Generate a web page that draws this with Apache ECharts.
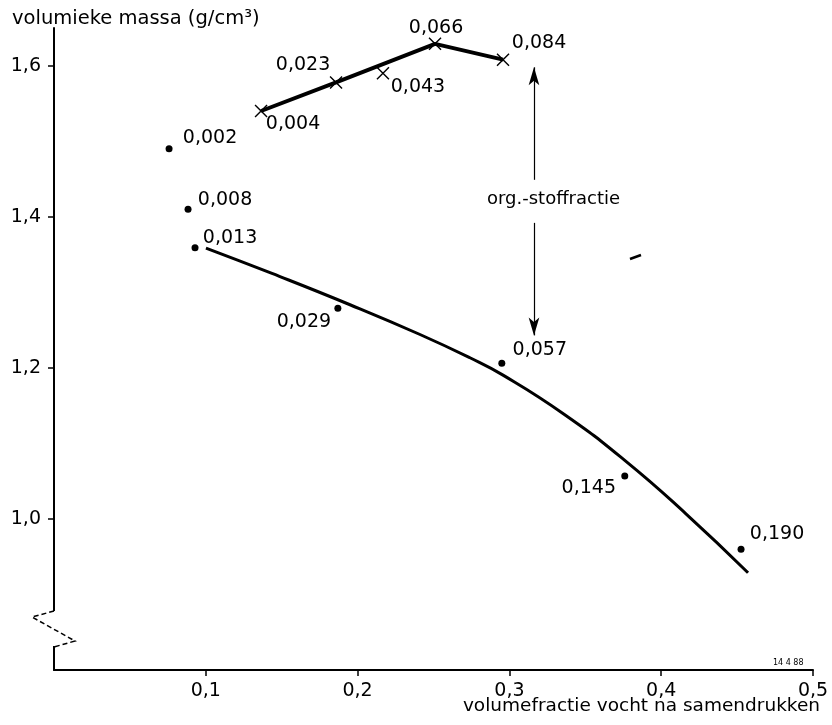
<!DOCTYPE html>
<html><head><meta charset="utf-8">
<script src="https://cdn.jsdelivr.net/npm/echarts@6/dist/echarts.min.js"></script>
<style>html,body{margin:0;padding:0;background:#fff}#c{width:832px;height:725px}</style>
</head><body><div id="c"></div>
<script>
// ---- data ----
// round markers (dots): moisture fraction, bulk density, organic-matter fraction
const dotX   = [0.0758, 0.0883, 0.0929, 0.187, 0.295, 0.376, 0.4526];
const dotY   = [1.490, 1.410, 1.359, 1.279, 1.206, 1.057, 0.960];
const dotOrg = [0.002, 0.008, 0.013, 0.029, 0.057, 0.145, 0.190];
// cross markers
const crossX   = [0.1364, 0.1858, 0.2167, 0.251, 0.2958];
const crossY   = [1.540, 1.578, 1.590, 1.629, 1.608];
const crossOrg = [0.004, 0.023, 0.043, 0.066, 0.084];
// upper thick polyline
const upperX = [0.1364, 0.1858, 0.251, 0.2958];
const upperY = [1.540, 1.578, 1.629, 1.608];
// lower fitted curve
const curveX = [0.1001, 0.1436, 0.1950, 0.2411, 0.2740, 0.2958, 0.3360, 0.3762, 0.4163, 0.4572];
const curveY = [1.3586, 1.3250, 1.2836, 1.2442, 1.2134, 1.1904, 1.1387, 1.0772, 1.0068, 0.9288];
// axis ticks
const xTicks = [0.1, 0.2, 0.3, 0.4, 0.5];
const yTicks = [1.0, 1.2, 1.4, 1.6];
// annotation arrow (organic matter fraction direction)
const arrowX = 0.3162;
const arrowUp = [1.449, 1.598];
const arrowDown = [1.392, 1.243];

// ---- label placement (style only) ----
const dotLabelOffset   = [[41,-11],[37,-9],[35,-10],[-34,14],[38,-13],[-36,12],[36,-15]];
const crossLabelOffset = [[32,13],[-33,-17],[35,14],[1,-16],[36,-17]];

const FONT = 'DejaVu Sans';
const fmt = v => v.toFixed(3).replace('.', ',');
const fmt1 = v => v.toFixed(1).replace('.', ',');

const chart = echarts.init(document.getElementById('c'), null, {renderer:'canvas'});

const dotData = dotX.map((x,i)=>({value:[x,dotY[i]], org:dotOrg[i], label:{offset:dotLabelOffset[i]}}));
const crossData = crossX.map((x,i)=>({value:[x,crossY[i]], org:crossOrg[i], label:{offset:crossLabelOffset[i]}}));
const labelStyle = {show:true, position:'inside', align:'center', verticalAlign:'middle',
  fontFamily:FONT, fontSize:19, color:'#000', textBorderWidth:0, formatter:p=>fmt(p.data.org)};

chart.setOption({
  animation:false,
  backgroundColor:'#fff',
  grid:{left:54, right:19, top:28, bottom:55, containLabel:false},
  xAxis:{type:'value', min:0, max:0.5, interval:0.1,
    axisLine:{show:true, onZero:false, lineStyle:{color:'#000', width:2}},
    axisTick:{show:true, length:6, inside:false, customValues:xTicks, lineStyle:{color:'#000', width:1.5}},
    axisLabel:{show:true, customValues:xTicks, formatter:v=>fmt1(v), fontFamily:FONT, fontSize:19, color:'#000', margin:12},
    splitLine:{show:false}},
  yAxis:{type:'value', min:0.8, max:1.65,
    axisLine:{show:true, onZero:false, lineStyle:{color:'#000', width:2}},
    axisTick:{show:true, length:6, inside:false, customValues:yTicks, lineStyle:{color:'#000', width:1.5}},
    axisLabel:{show:true, customValues:yTicks, formatter:v=>fmt1(v), fontFamily:FONT, fontSize:19, color:'#000', margin:13},
    splitLine:{show:false}},
  series:[
    {type:'line', data:curveX.map((x,i)=>[x,curveY[i]]), smooth:0.5, symbol:'none',
     lineStyle:{color:'#000', width:3}, z:2},
    {type:'line', data:upperX.map((x,i)=>[x,upperY[i]]), smooth:false, symbol:'none',
     lineStyle:{color:'#000', width:3.8}, z:2,
     markLine:{silent:true, symbol:['none','arrow'], symbolSize:[8,18], precision:4,
       lineStyle:{color:'#000', width:1.2, type:'solid'}, label:{show:false},
       data:[
         [{coord:[arrowX, arrowUp[0]]},{coord:[arrowX, arrowUp[1]]}],
         [{coord:[arrowX, arrowDown[0]]},{coord:[arrowX, arrowDown[1]]}]
       ]}},
    {type:'scatter', data:dotData, symbol:'circle', symbolSize:7,
     itemStyle:{color:'#000', opacity:1}, label:labelStyle, z:3},
    {type:'scatter', data:crossData, symbol:'path://M0,0L10,10M10,0L0,10', symbolSize:12,
     itemStyle:{color:'rgba(0,0,0,0)', borderColor:'#000', borderWidth:1.4, opacity:1}, label:labelStyle, z:3}
  ],
  graphic:[
    {type:'text', left:12, top:9, style:{text:'volumieke massa (g/cm³)', font:'19.5px "DejaVu Sans"', fill:'#000'}},
    {type:'text', right:12, top:697, style:{text:'volumefractie vocht na samendrukken', font:'18.5px "DejaVu Sans"', fill:'#000'}},
    {type:'text', left:773, top:659, style:{text:'14 4 88', font:'8px "DejaVu Sans"', fill:'#000'}},
    {type:'text', left:487, top:190, style:{text:'org.-stoffractie', font:'18px "DejaVu Sans"', fill:'#000'}},
    // axis break on y axis
    {type:'rect', shape:{x:48, y:611, width:12, height:35}, style:{fill:'#fff'}, z:100},
    {type:'polyline', shape:{points:[[54,611],[32,617],[75,641],[54,647]]},
     style:{stroke:'#000', lineWidth:1.5, lineDash:[5,3], fill:null}, z:101},
    // small stray stroke
    {type:'line', shape:{x1:630, y1:259, x2:641, y2:255}, style:{stroke:'#000', lineWidth:2.5}, z:5}
  ]
});
</script>
</body></html>
